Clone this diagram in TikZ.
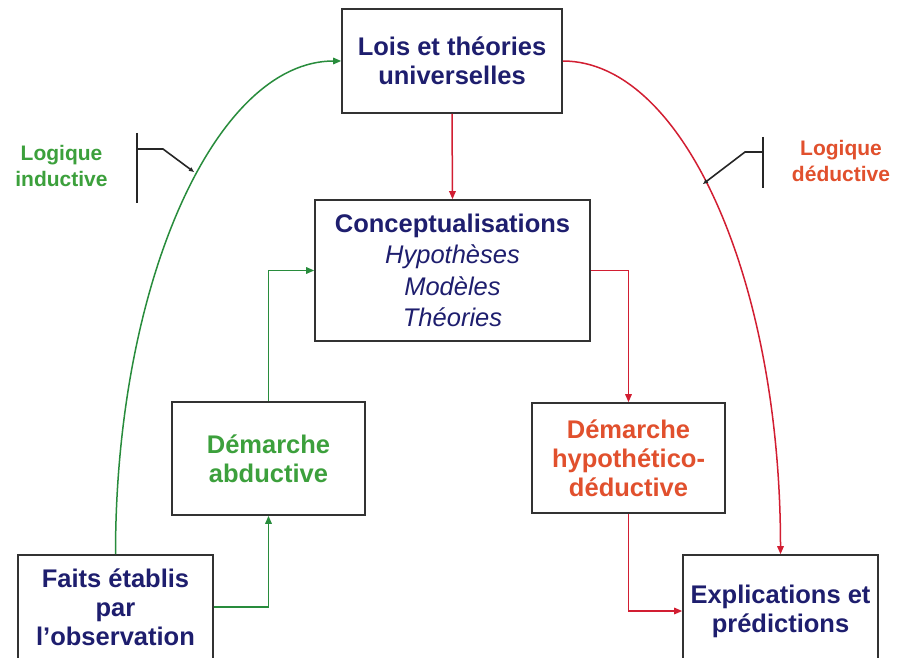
\documentclass[tikz,border=0pt]{standalone}
\usepackage{fontspec}
\setmainfont{Liberation Sans}
\usetikzlibrary{arrows.meta}
\definecolor{navytxt}{RGB}{30,30,110}
\definecolor{greentxt}{RGB}{60,160,60}
\definecolor{redtxt}{RGB}{225,80,45}
\definecolor{greenln}{RGB}{40,140,60}
\definecolor{redln}{RGB}{210,30,50}
\definecolor{framec}{RGB}{50,50,50}
\tikzset{
  box/.style={draw=framec, line width=1.6pt, fill=white, inner sep=0pt, align=center,
    font=\fontsize{25.5}{29}\selectfont\bfseries},
  gline/.style={draw=greenln, line width=1.5pt, -{Triangle[length=8pt,width=6.5pt]}},
  rline/.style={draw=redln, line width=1.5pt, -{Triangle[length=8pt,width=6.5pt]}},
  symb/.style={draw=black!85, line width=1.6pt},
  lbl/.style={align=center, font=\fontsize{21}{26.5}\selectfont\bfseries}
}
\begin{document}
\begin{tikzpicture}[x=1pt,y=-1pt]
\clip (0,0) rectangle (899,658);
\fill[white] (0,0) rectangle (899,658);

\node[box, minimum width=220pt, minimum height=104pt, text=navytxt] (lois) at (452,61) {Lois et théories\\universelles};
\node[box, minimum width=275pt, minimum height=141pt, text=navytxt,
  font=\fontsize{25.5}{31.5}\selectfont] (concept) at (452.5,270.5)
  {\bfseries Conceptualisations\\\itshape Hypothèses\\\itshape Modèles\\\itshape Théories};
\node[box, minimum width=193pt, minimum height=113pt, text=greentxt] (abd) at (268.5,458.5) {Démarche\\abductive};
\node[box, minimum width=193pt, minimum height=110pt, text=redtxt] (hypo) at (628.5,458) {Démarche\\hypothético-\\déductive};
\node[box, minimum width=195pt, minimum height=104pt, text=navytxt] (faits) at (115.5,607) {Faits établis\\par\\l’observation};
\node[box, minimum width=195pt, minimum height=112pt, text=navytxt] (expl) at (780.5,611) {Explications et\\prédictions};

\node[lbl, text=greentxt] (lind) at (61.5,166) {Logique\\inductive};
\node[lbl, text=redtxt] (lded) at (841,161) {Logique\\déductive};

% straight connectors
\draw[rline] (lois.south) -- (concept.north);
\draw[gline] (faits.east) -| (abd.south);
\draw[gline] (abd.north) |- (concept.west);
\draw[rline] (concept.east) -| (hypo.north);
\draw[rline] (hypo.south) |- (expl.west);

% curved connectors
\draw[gline] (faits.north) .. controls +(0,-273) and +(-125,0) .. (lois.west);
\draw[rline] (lois.east) .. controls +(121,0) and +(0,-273) .. (expl.north);

% logic symbols
\coordinate (ia) at (137,133);
\coordinate (ib) at (137,203);
\coordinate (ic) at (137,149);
\coordinate (id) at (163,149);
\coordinate (ie) at (194,172);
\draw[symb] (ia) -- (ib);
\draw[symb, -{Triangle[length=5pt,width=4pt]}] (ic) -- (id) -- (ie);

\coordinate (da) at (763,137);
\coordinate (db) at (763,188);
\coordinate (dc) at (763,152);
\coordinate (dd) at (745,152);
\coordinate (de) at (703,184);
\draw[symb] (da) -- (db);
\draw[symb, -{Triangle[length=5pt,width=4pt]}] (dc) -- (dd) -- (de);
\end{tikzpicture}
\end{document}
